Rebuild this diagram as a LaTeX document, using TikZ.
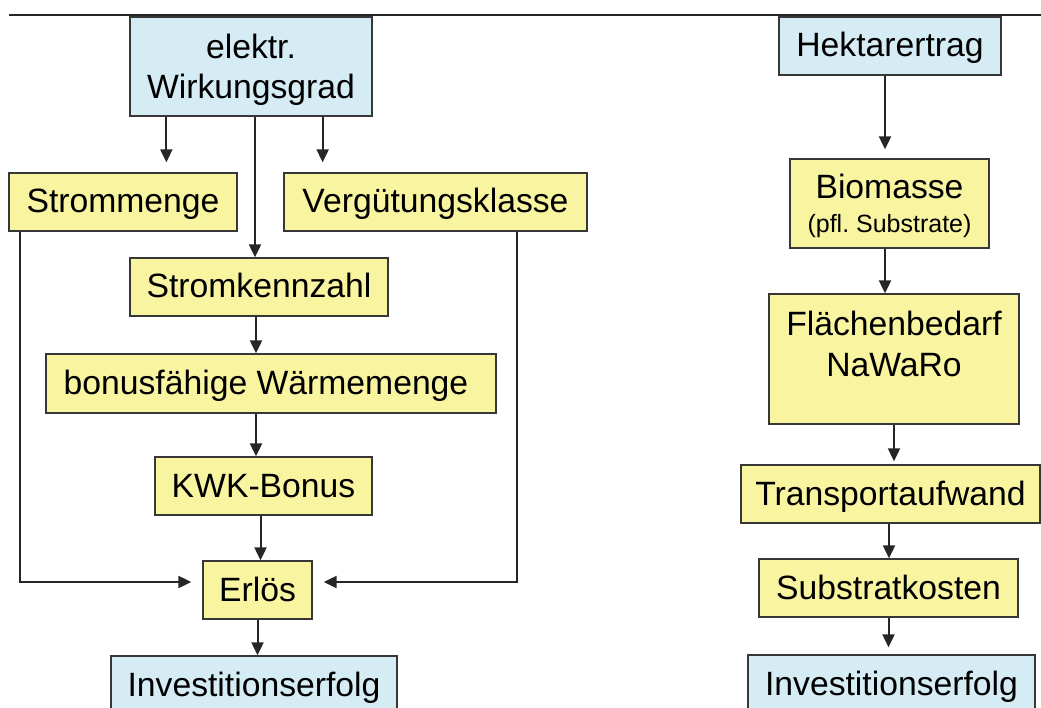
\documentclass[tikz,border=0pt]{standalone}
\usepackage{fontspec}
\setmainfont{Liberation Sans}
\usetikzlibrary{arrows.meta}
\definecolor{boxblue}{RGB}{214,236,244}
\definecolor{boxyellow}{RGB}{248,244,160}
\definecolor{boxline}{RGB}{55,55,55}
\tikzset{
  box/.style={draw=boxline, line width=1.3pt, inner sep=0pt, align=center,
    font=\fontsize{33.7}{40}\selectfont},
  onerow/.style={text height=24pt, text depth=2pt},
  bluebox/.style={box, fill=boxblue},
  yellowbox/.style={box, fill=boxyellow},
  arr/.style={draw=black!85, line width=2pt, -{Triangle[length=13pt,width=12pt]}}
}
\begin{document}
\begin{tikzpicture}[x=1pt, y=-1pt]
        \useasboundingbox (0,0) rectangle (1041,708);
        \draw[line width=2.4pt, black!85] (9,15) -- (1041,15); % top rule
        % left column
        \node[bluebox, text height=65pt, text depth=0pt, minimum width=242, minimum height=99] (wirk) at (251,66.5) {elektr.\\Wirkungsgrad};
        \node[yellowbox, onerow, minimum width=228, minimum height=58] (strom) at (123,202) {Strommenge};
        \node[yellowbox, onerow, minimum width=303, minimum height=58] (verg) at (435.5,202) {Vergütungsklasse};
        \node[yellowbox, onerow, minimum width=258, minimum height=58] (kenn) at (259,287) {Stromkennzahl};
        \node[yellowbox, onerow, minimum width=450, minimum height=59] (waerme) at (271,383.5) {bonusfähige Wärmemenge\hspace{10pt}};
        \node[yellowbox, onerow, minimum width=217, minimum height=58] (kwk) at (263.5,486) {KWK-Bonus};
        \node[yellowbox, onerow, minimum width=109, minimum height=58] (erloes) at (257.5,590) {Erlös};
        \node[bluebox, onerow, minimum width=286, minimum height=58] (invl) at (254,685) {Investitionserfolg};
        % right column
        \node[bluebox, onerow, minimum width=222, minimum height=58] (hekt) at (890,46) {Hektarertrag};
        \node[yellowbox, text height=59pt, text depth=0pt, minimum width=199, minimum height=89] (bio) at (889.5,203.5) {Biomasse\\[-6pt]{\fontsize{25}{30}\selectfont (pfl.\ Substrate)}};
        \node[yellowbox, text height=34pt, text depth=0pt, minimum width=250, minimum height=130] (flaeche) at (894,359) {Flächenbedarf\\NaWaRo};
        \node[yellowbox, onerow, minimum width=299, minimum height=58] (trans) at (890.5,494) {Transportaufwand};
        \node[yellowbox, onerow, minimum width=259, minimum height=58] (subst) at (888.5,588) {Substratkosten};
        \node[bluebox, onerow, minimum width=287, minimum height=58] (invr) at (891.5,684) {Investitionserfolg};
        % connectors left
        \draw[arr, shorten >=10pt] ([xshift=37]wirk.south west) -- ([xshift=37]wirk.south west |- strom.north);
        \draw[arr, shorten >=10pt] ([xshift=-50]wirk.south east) -- ([xshift=-50]wirk.south east |- verg.north);
        \draw[arr] ([xshift=4]wirk.south) -- ([xshift=4]wirk.south |- kenn.north);
        \draw[arr] ([xshift=-3]kenn.south) -- ([xshift=-3]kenn.south |- waerme.north);
        \draw[arr] ([xshift=-15]waerme.south) -- ([xshift=-15]waerme.south |- kwk.north);
        \draw[arr] ([xshift=-3]kwk.south) -- ([xshift=-3]kwk.south |- erloes.north);
        \draw[arr] (erloes.south) -- (erloes.south |- invl.north);
        \draw[arr, shorten >=11pt] ([xshift=12]strom.south west) |- ([yshift=8]erloes.west);
        \draw[arr, shorten >=11pt] ([xshift=-71]verg.south east) |- ([yshift=8]erloes.east);
        % connectors right
        \draw[arr, shorten >=9pt] ([xshift=-5]hekt.south) -- ([xshift=-5]hekt.south |- bio.north);
        \draw[arr] ([xshift=-4.5]bio.south) -- ([xshift=-4.5]bio.south |- flaeche.north);
        \draw[arr, shorten >=3pt] (flaeche.south) -- (flaeche.south |- trans.north);
        \draw[arr] ([xshift=-1.5]trans.south) -- ([xshift=-1.5]trans.south |- subst.north);
        \draw[arr, shorten >=7pt] (subst.south) -- (subst.south |- invr.north);
      \end{tikzpicture}
\end{document}
